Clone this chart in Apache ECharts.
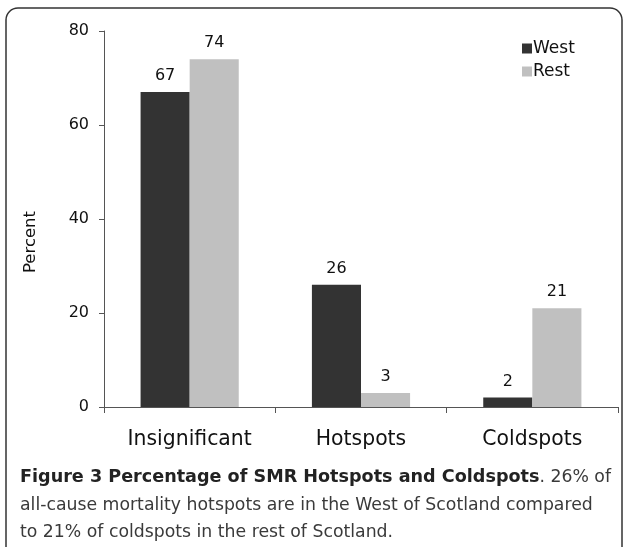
<!DOCTYPE html>
<html>
<head>
<meta charset="utf-8">
<script src="https://cdn.jsdelivr.net/npm/echarts@6/dist/echarts.min.js"></script>
<style>
  html, body { margin: 0; padding: 0; background: #fff; }
  #chart { width: 626px; height: 547px; }
</style>
</head>
<body>
<div id="chart"></div>
<script>
// data
const categories = ['Insignificant', 'Hotspots', 'Coldspots'];
const westValues = [67, 26, 2];
const restValues = [74, 3, 21];
const yTicks = [0, 20, 40, 60, 80];

const font = '"DejaVu Sans", Verdana, sans-serif';

const chart = echarts.init(document.getElementById('chart'));

chart.setOption({
  animation: false,
  textStyle: { fontFamily: font },
  grid: { left: 104, right: 8, top: 31, bottom: 140 },
  legend: {
    left: 517,
    top: 35,
    orient: 'vertical',
    itemWidth: 10,
    itemHeight: 10,
    itemGap: 6,
    icon: 'rect',
    textStyle: { fontSize: 17, color: '#111', padding: [0, 0, 0, -4] },
    data: ['West', 'Rest']
  },
  xAxis: {
    type: 'category',
    data: categories,
    axisLine: { lineStyle: { color: '#555', width: 1 } },
    axisTick: { show: true, length: 6, lineStyle: { color: '#555' } },
    axisLabel: { fontSize: 20.4, color: '#111', margin: 23 }
  },
  yAxis: {
    type: 'value',
    min: yTicks[0],
    max: yTicks[yTicks.length - 1],
    interval: 20,
    axisLine: { show: true, lineStyle: { color: '#555', width: 1 } },
    axisTick: { show: true, length: 5, lineStyle: { color: '#555' } },
    axisLabel: { fontSize: 16, color: '#111', margin: 15 },
    splitLine: { show: false }
  },
  series: [
    {
      name: 'West',
      type: 'bar',
      data: westValues,
      barGap: '0%',
      barCategoryGap: '42.7%',
      itemStyle: { color: '#333333' },
      label: { show: true, position: 'top', fontSize: 16, color: '#111', distance: 8 }
    },
    {
      name: 'Rest',
      type: 'bar',
      data: restValues,
      itemStyle: { color: '#c0c0c0' },
      label: { show: true, position: 'top', fontSize: 16, color: '#111', distance: 8 }
    }
  ],
  graphic: [
    {
      type: 'rect',
      shape: { x: 6, y: 8, width: 616, height: 580, r: 12 },
      style: { fill: 'none', stroke: '#333', lineWidth: 1.5 },
      silent: true
    },
    // y axis title sits lower than the middle of the axis in the original
    {
      type: 'text',
      x: 31,
      y: 242,
      rotation: Math.PI / 2,
      style: {
        text: 'Percent',
        fontFamily: font,
        fontSize: 16.5,
        fill: '#111',
        align: 'center',
        verticalAlign: 'middle'
      }
    },
    {
      type: 'text',
      left: 20,
      top: 464,
      style: {
        text: '{b|Figure 3 Percentage of SMR Hotspots and Coldspots}. 26% of\nall-cause mortality hotspots are in the West of Scotland compared\nto 21% of coldspots in the rest of Scotland.',
        fontFamily: font,
        fontSize: 17.3,
        lineHeight: 27.5,
        fill: '#3a3a3a',
        rich: {
          b: { fontWeight: 'bold', fontSize: 17.6, fontFamily: font, fill: '#222', lineHeight: 27.5 }
        }
      }
    }
  ]
});
</script>
</body>
</html>
